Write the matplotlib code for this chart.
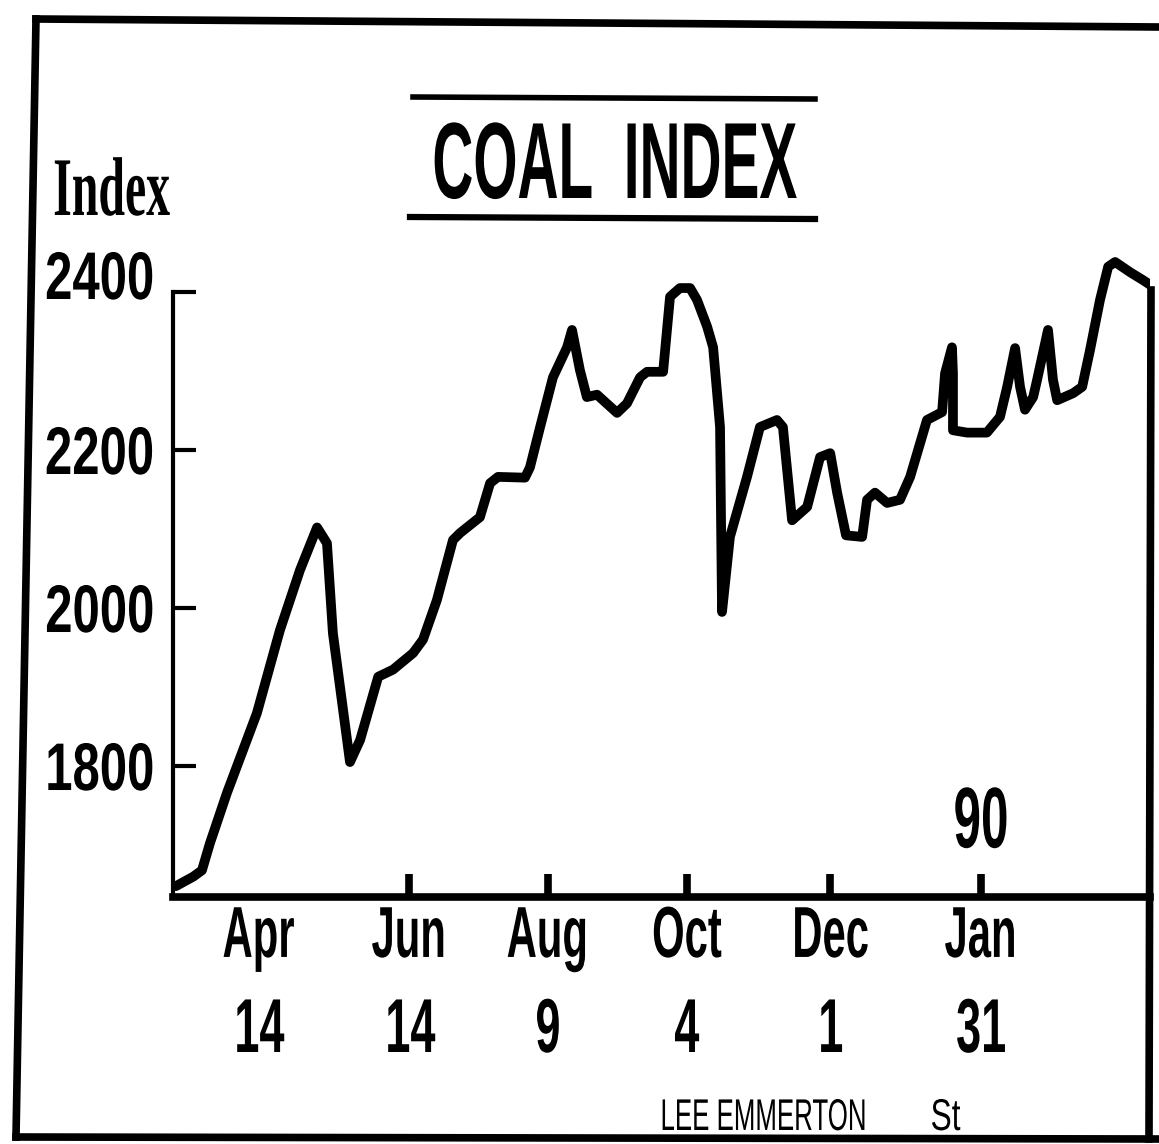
import numpy as np
import matplotlib
matplotlib.use("Agg")
import matplotlib.pyplot as plt
from matplotlib import font_manager
from matplotlib.lines import Line2D
from matplotlib.patheffects import AbstractPathEffect
from matplotlib.transforms import Affine2D, ScaledTranslation

# Coal index readings; days counted from 14 April 1989
base_date = np.datetime64("1989-04-14")
days = [-33.3, -26.3, -22.8, -19.6, -12.7, -0.6, 8.7, 16.8, 23.7, 27.7, 30.1,
        37.0, 41.1, 48.4, 54.4, 62.5, 66.5, 72.1, 78.6, 81.5, 89.5, 93.6,
        96.8, 107.7, 109.7, 113.8, 119.0, 124.7, 126.7, 129.9, 132.7, 136.8,
        144.9, 148.9, 154.2, 157.0, 163.5, 166.3, 170.3, 174.4, 177.2, 181.3,
        183.7, 186.5, 187.3, 190.5, 197.4, 202.6, 209.5, 211.9, 215.6, 221.7,
        226.9, 231.0, 233.8, 237.4, 243.9, 245.9, 249.1, 254.0, 259.2, 263.3,
        270.1, 276.2, 277.4, 280.2, 280.6, 280.6, 286.3, 294.3, 299.6, 302.5,
        305.7, 307.7, 309.7, 313.0, 314.6, 319.0, 321.0, 322.7, 329.2, 332.8,
        336.0, 340.0, 343.3, 346.1, 352.2, 357.4, 360.3]
index = [1648, 1660, 1668, 1702, 1766, 1867, 1972, 2048, 2102, 2082, 1968,
         1805, 1833, 1913, 1922, 1943, 1960, 2010, 2086, 2095, 2115, 2158,
         2166, 2165, 2178, 2229, 2292, 2330, 2352, 2301, 2267, 2270, 2247,
         2259, 2292, 2299, 2299, 2394, 2405, 2405, 2390, 2356, 2330, 2229,
         1995, 2090, 2166, 2229, 2238, 2229, 2111, 2128, 2191, 2196, 2146,
         2092, 2090, 2137, 2146, 2133, 2137, 2166, 2238, 2248, 2297, 2330,
         2297, 2225, 2222, 2222, 2242, 2280, 2329, 2280, 2251, 2267, 2289,
         2352, 2289, 2263, 2272, 2280, 2327, 2390, 2432, 2438, 2425, 2415,
         2409]

tick_dates = ["1989-04-14", "1989-06-14", "1989-08-09",
              "1989-10-04", "1989-12-01", "1990-01-31"]
tick_months = ["Apr", "Jun", "Aug", "Oct", "Dec", "Jan"]
tick_days = ["14", "14", "9", "4", "1", "31"]
y_ticks = [1800, 2000, 2200, 2400]

W, H = 1159, 1144


class Squeeze(AbstractPathEffect):
    """Draw text glyphs compressed horizontally, like a condensed face."""

    def __init__(self, sx, anchor="center"):
        super().__init__()
        self.sx = sx
        self.anchor = anchor

    def draw_path(self, renderer, gc, tpath, affine, rgbFace=None):
        ext = tpath.get_extents()
        cx = {"left": ext.x0, "right": ext.x1,
              "center": 0.5 * (ext.x0 + ext.x1)}[self.anchor]
        squeeze = Affine2D().translate(-cx, 0).scale(self.sx, 1).translate(cx, 0)
        renderer.draw_path(gc, tpath, squeeze + affine, rgbFace)


def fx(x):
    return x / W


def fy(y):
    return 1 - y / H


installed = {f.name for f in font_manager.fontManager.ttflist}
sans = "Liberation Sans Narrow" if "Liberation Sans Narrow" in installed else "Liberation Sans"
plt.rcParams["font.family"] = [sans, "DejaVu Sans"]

fig = plt.figure(figsize=(W / 100, H / 100), dpi=100)
fig.patch.set_facecolor("white")
renderer = fig.canvas.get_renderer()


def condense(texts, width_px, anchor="center", ref=None):
    """Squeeze a group of texts so that the reference text spans width_px."""
    ref = texts[0] if ref is None else ref
    w = ref.get_window_extent(renderer).width
    for t in texts:
        t.set_path_effects([Squeeze(min(1.0, width_px / w), anchor)])


# plot area
x_left, x_right = -34.5, 360.2
y_bottom, y_top = 1634.2, 2450
ax = fig.add_axes([fx(173), fy(897), fx(1150) - fx(173), fy(252.5) - fy(897)])
ax.set_xlim(x_left, x_right)
ax.set_ylim(y_bottom, y_top)

ax.plot(days, index, color="black", lw=7, solid_joinstyle="round",
        solid_capstyle="round")

for side in ("top", "right"):
    ax.spines[side].set_visible(False)
ax.spines["left"].set_linewidth(3)
ax.spines["left"].set_bounds(y_bottom, 2400)
ax.spines["bottom"].set_linewidth(5.5)

# x axis: month on the first line, day number below
tick_pos = (np.array(tick_dates, dtype="datetime64[D]") - base_date).astype(int)
ax.xaxis.remove_overlapping_locs = False
ax.set_xticks(tick_pos)
ax.set_xticklabels(tick_months)
ax.set_xticks(tick_pos, minor=True)
ax.set_xticklabels(tick_days, minor=True)
ax.tick_params(axis="x", which="major", direction="in", length=16.5, width=5.5,
               labelsize=52, pad=5)
ax.tick_params(axis="x", which="minor", length=0, labelsize=55, pad=72)
ax.xaxis.get_major_ticks()[0].tick1line.set_visible(False)

ax.set_yticks(y_ticks)
ax.set_yticklabels([str(v) for v in y_ticks])
ax.tick_params(axis="y", direction="in", length=16.5, width=3, labelsize=56,
               pad=13)

for lbl in ax.get_xticklabels() + ax.get_xticklabels(minor=True) + ax.get_yticklabels():
    lbl.set_fontweight("bold")

# year marker above the January tick
year = ax.text(tick_pos[-1], 1697, "90", ha="center", va="baseline",
               fontsize=62, fontweight="bold")

# title between two rules
title = fig.text(fx(614), fy(198), "COAL  INDEX", ha="center", va="baseline",
                 fontsize=78, fontweight="bold")
fig.add_artist(Line2D([fx(413), fx(815)], [fy(97), fy(99)], color="black", lw=4))
fig.add_artist(Line2D([fx(410), fx(815)], [fy(217), fy(219)], color="black", lw=4.5))

index_lbl = fig.text(fx(52), fy(215), "Index", ha="left", va="baseline",
                     fontsize=60, fontweight="bold",
                     family=["Liberation Serif", "DejaVu Serif"])

# credit line
credit = fig.text(fx(868), fy(1130), "LEE EMMERTON", ha="right", va="baseline",
                  fontsize=32)
credit2 = fig.text(fx(930), fy(1130), "St", ha="left", va="baseline",
                   fontsize=32)

# outer frame
frame = dict(color="black", lw=5.5, solid_capstyle="projecting")
fig.add_artist(Line2D([fx(36), fx(1159)], [fy(19), fy(27)], **frame))
fig.add_artist(Line2D([fx(36), fx(16)], [fy(19), fy(1137)], **frame))
fig.add_artist(Line2D([fx(16), fx(1159)], [fy(1137), fy(1139)], **frame))
fig.add_artist(Line2D([fx(1151), fx(1149)], [fy(290), fy(1139)], **frame))

# lay out once, then condense the faces to the printed widths
fig.canvas.draw()
ylabels = ax.get_yticklabels()
w_y = ylabels[0].get_window_extent(renderer).width
if w_y > 150:
    ax.tick_params(axis="y", labelsize=56 * 150 / w_y)
    fig.canvas.draw()
    ylabels = ax.get_yticklabels()
condense(ylabels, 109, "right")
condense(ax.get_xticklabels(), 72)
condense(ax.get_xticklabels(minor=True), 50)
condense([year], 55)
condense([title], 365)
condense([index_lbl], 117, "left")
condense([credit], 206, "right")
condense([credit2], 30, "left")

top_lbl = ylabels[-1]
top_lbl.set_transform(top_lbl.get_transform()
                      + ScaledTranslation(0, 0.17, fig.dpi_scale_trans))

fig.savefig("out.png", dpi=100, facecolor="white")
